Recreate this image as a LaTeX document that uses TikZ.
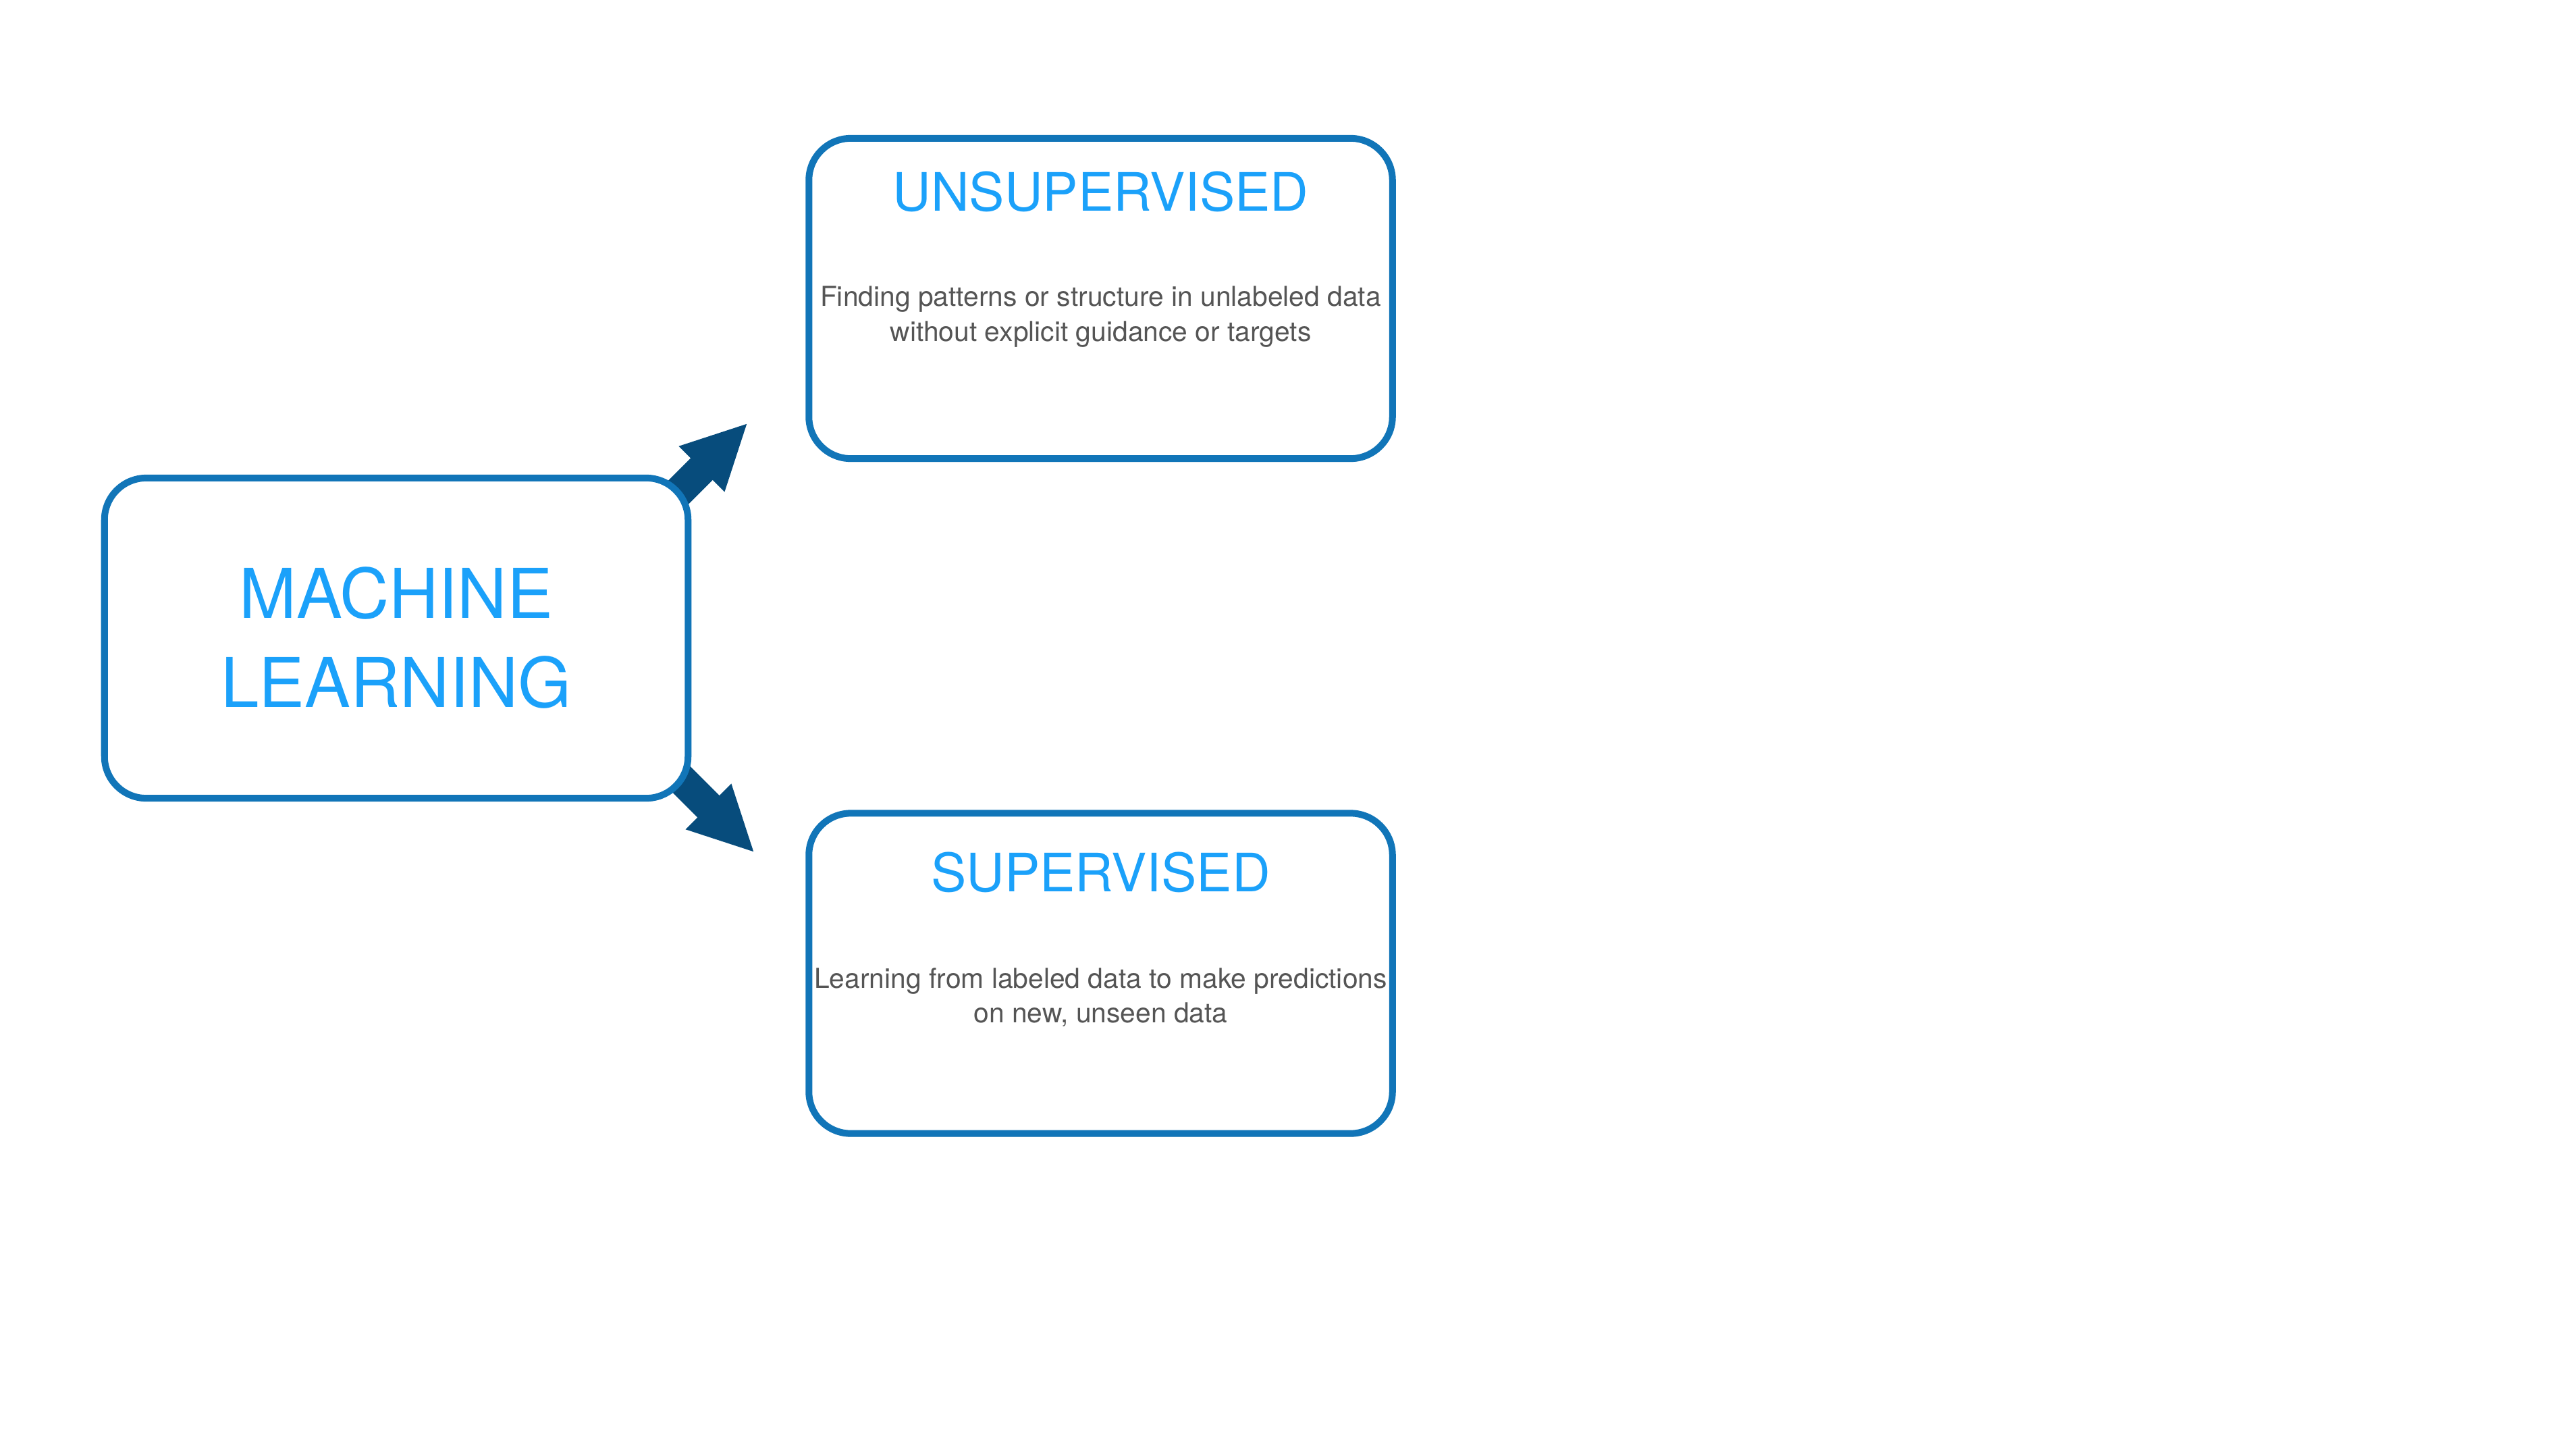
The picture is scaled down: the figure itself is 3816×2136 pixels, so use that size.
\documentclass[tikz,border=0pt]{standalone}
\usepackage{fontspec}
\setmainfont{TeX Gyre Heros}
\usetikzlibrary{arrows.meta,shadows,backgrounds}
\definecolor{borderblue}{HTML}{1175B8}
\definecolor{titleblue}{HTML}{1BA1FA}
\definecolor{arrowblue}{HTML}{074C7C}
\definecolor{bodygrey}{HTML}{555555}
\tikzset{
  card/.style={rectangle, rounded corners=0.62cm, draw=borderblue, fill=white,
    line width=0.1cm, minimum width=8.64cm, minimum height=4.74cm,
    inner sep=0pt, outer sep=0pt,
    drop shadow={shadow xshift=0pt, shadow yshift=-0.05cm, fill=black, opacity=0.22}},
  bigtitle/.style={anchor=base, inner sep=0pt, text=titleblue, font=\fontsize{28.9}{34}\selectfont},
  cardtitle/.style={anchor=base, inner sep=0pt, text=titleblue, font=\fontsize{22.3}{27}\selectfont},
  cardbody/.style={anchor=base, inner sep=0pt, text=bodygrey, font=\fontsize{11.6}{14}\selectfont},
  bigarrow/.style={draw=arrowblue, line width=0.46cm,
    -{Triangle[length=0.97cm, width=0.88cm, fill=arrowblue]}}
}
\begin{document}
\begin{tikzpicture}[x=0.01cm, y=-0.01cm]
\useasboundingbox (0,0) rectangle (3816,2136);
% boxes
\node[card] (main) at (587,945) {};
\node[card] (unsup) at (1630.5,442) {};
\node[card] (sup) at (1630.5,1441.5) {};
% arrow tips (free ends)
\coordinate (tipup) at (1108,626);
\coordinate (tipdown) at (1118,1263);
% arrows behind the boxes
\begin{scope}[on background layer]
\draw[bigarrow] ([xshift=-0.41cm, yshift=-0.48cm]main.north east) -- (tipup);
\draw[bigarrow] ([xshift=-0.41cm, yshift=0.59cm]main.south east) -- (tipdown);
\end{scope}
% texts
\node[bigtitle] (ml1) at (587,915) {MACHINE};
\node[bigtitle] (ml2) at (587,1047) {LEARNING};
\node[cardtitle] (ut) at (1630.5,312) {UNSUPERVISED};
\node[cardbody] (ub1) at (1630.5,453) {Finding patterns or structure in unlabeled data};
\node[cardbody] (ub2) at (1630.5,505) {without explicit guidance or targets};
\node[cardtitle] (st) at (1630.5,1320) {SUPERVISED};
\node[cardbody] (sb1) at (1630.5,1463) {Learning from labeled data to make predictions};
\node[cardbody] (sb2) at (1630.5,1514) {on new, unseen data};
\end{tikzpicture}
\end{document}
